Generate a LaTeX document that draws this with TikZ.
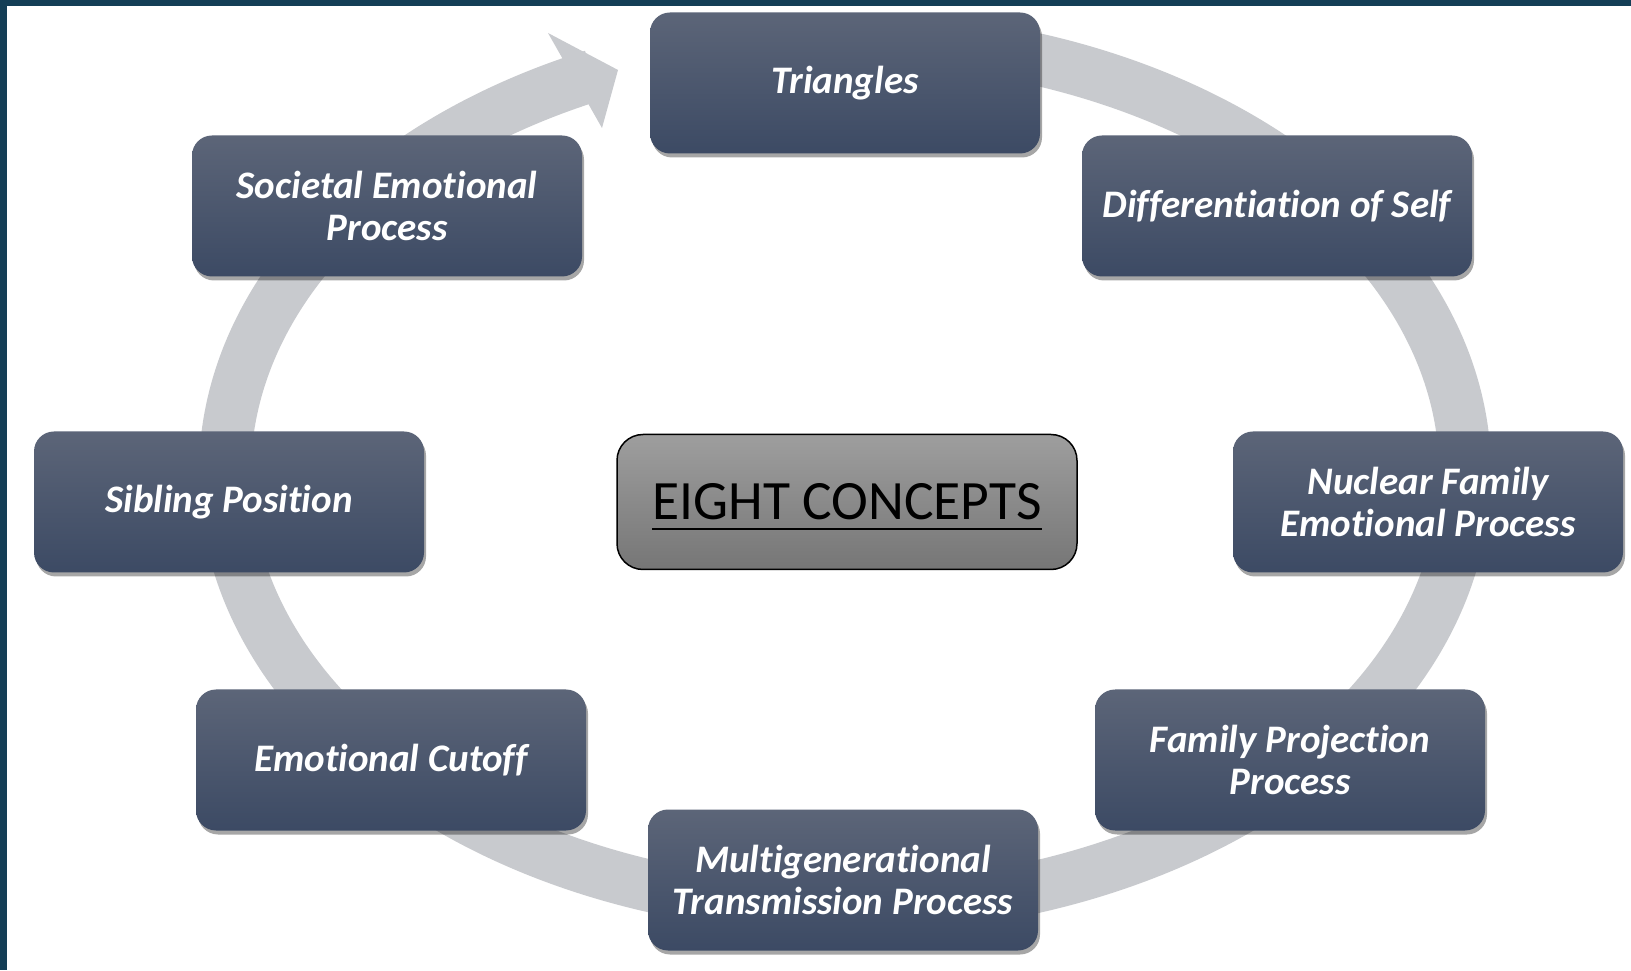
\documentclass[tikz,border=0pt]{standalone}
\usepackage{fontspec}
\setmainfont{Carlito}[Ligatures=NoCommon]
\usetikzlibrary{shadows,calc}
\definecolor{frameteal}{RGB}{20,62,86}
\definecolor{ringgray}{RGB}{200,202,206}
\definecolor{boxtop}{RGB}{92,101,120}
\definecolor{boxbot}{RGB}{60,74,100}
\definecolor{ctrtop}{RGB}{158,158,158}
\definecolor{ctrbot}{RGB}{118,118,118}
\newcommand{\ulbig}[1]{\setbox0\hbox{#1}\rlap{\rule[-10pt]{\wd0}{2pt}}\box0}
\tikzset{
  concept/.style={rounded corners=20pt, minimum width=390pt, minimum height=141pt,
    top color=boxtop, bottom color=boxbot, text=white, align=center, inner sep=0pt,
    font=\fontsize{39pt}{42pt}\selectfont\bfseries\itshape,
    drop shadow={shadow xshift=2pt, shadow yshift=-4pt, opacity=0.35, fill=black}},
  centerbox/.style={rounded corners=26pt, minimum width=460pt, minimum height=135pt,
    top color=ctrtop, bottom color=ctrbot, draw=black, line width=1.5pt,
    text=black, inner sep=0pt, font=\fontsize{55.5pt}{60pt}\selectfont},
  ring/.style={draw=ringgray, line width=52pt}
}
\begin{document}
\begin{tikzpicture}[x=1pt,y=1pt]
\useasboundingbox (0,0) rectangle (1631,970);
\fill[white] (0,0) rectangle (1631,970);
\fill[frameteal] (0,964) rectangle (1631,970);
\fill[frameteal] (0,0) rectangle (7,970);
% ring
\coordinate (rc) at (845,497);
\draw[ring] ($(rc)+(80:620pt and 435pt)$) coordinate (ringstart)
  arc[start angle=80, end angle=-246, x radius=620pt, y radius=435pt] coordinate (ringend);
\fill[ringgray] (548,937) coordinate (hw1) -- (618,900) coordinate (tip) -- (602,842) coordinate (hw2) -- cycle;
% concepts
\node[concept] (tri) at (845,887) {Triangles};
\node[concept] (diff) at (1277,764) {Differentiation of Self};
\node[concept] (nuc) at (1428,468) {Nuclear Family\\Emotional Process};
\node[concept] (fpp) at (1290,210) {Family Projection\\Process};
\node[concept] (mtp) at (843,90) {Multigenerational\\Transmission Process};
\node[concept] (cut) at (391,210) {Emotional Cutoff};
\node[concept] (sib) at (229,468) {Sibling Position};
\node[concept] (soc) at (387,764) {Societal Emotional\\Process};
\node[centerbox] (ctr) at (847,468) {\raisebox{-18pt}[0pt][0pt]{\ulbig{EIGHT CONCEPTS}}};
\end{tikzpicture}
\end{document}
